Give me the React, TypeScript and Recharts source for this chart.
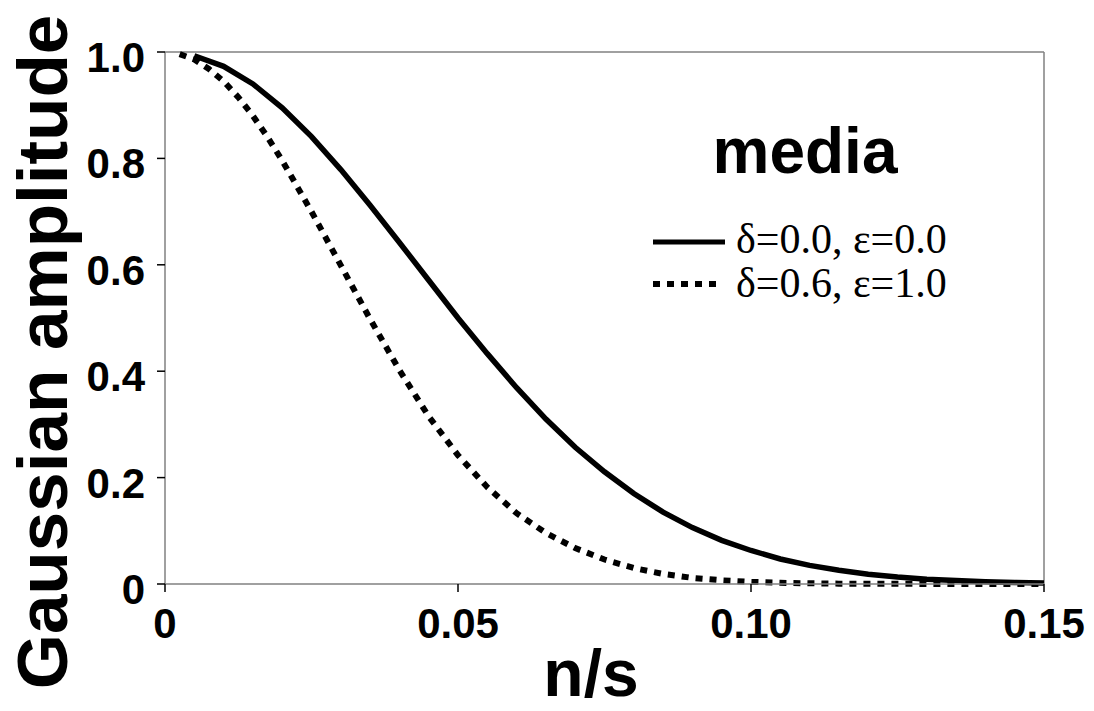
import React from "react";
import { LineChart, Line, XAxis, YAxis, Legend, ReferenceLine, Label } from "recharts";

// n/s positions and amplitudes
const solidX = [0.005, 0.01, 0.015, 0.02, 0.025, 0.03, 0.035, 0.04, 0.045, 0.05, 0.055, 0.06, 0.065, 0.07, 0.075, 0.08, 0.085, 0.09, 0.095, 0.1, 0.105, 0.11, 0.115, 0.12, 0.125, 0.13, 0.135, 0.14, 0.145, 0.15];
const solidY = [0.993, 0.973, 0.94, 0.895, 0.841, 0.779, 0.712, 0.642, 0.571, 0.5, 0.433, 0.369, 0.31, 0.257, 0.211, 0.17, 0.135, 0.106, 0.082, 0.063, 0.047, 0.035, 0.026, 0.0185, 0.013, 0.009, 0.0064, 0.0044, 0.003, 0.002];

const dottedX = [0.0025, 0.005, 0.0075, 0.01, 0.0125, 0.015, 0.0175, 0.02, 0.025, 0.03, 0.035, 0.04, 0.045, 0.05, 0.055, 0.06, 0.065, 0.07, 0.075, 0.08, 0.085, 0.09, 0.095, 0.1, 0.105, 0.11, 0.115, 0.12, 0.13, 0.14, 0.15];
const dottedY = [0.996, 0.986, 0.968, 0.945, 0.915, 0.88, 0.84, 0.796, 0.7, 0.599, 0.498, 0.402, 0.315, 0.242, 0.182, 0.133, 0.096, 0.0675, 0.046, 0.03, 0.019, 0.0115, 0.007, 0.004, 0.0023, 0.0013, 0.0007, 0.0004, 0.0002, 0.0001, 0];

const seriesNames = ["δ=0.0, ε=0.0", "δ=0.6, ε=1.0"];
const xTicks = [0, 0.05, 0.1, 0.15];
const xTickLabels = ["0", "0.05", "0.10", "0.15"];
const yTicks = [0, 0.2, 0.4, 0.6, 0.8, 1.0];
const yTickLabels = ["0", "0.2", "0.4", "0.6", "0.8", "1.0"];

const solidData = solidX.map((x, i) => ({ x, y: solidY[i] }));
const dottedData = dottedX.map((x, i) => ({ x, y: dottedY[i] }));

const sans = "'Liberation Sans', Arial, sans-serif";
const serif = "'Liberation Serif', 'Times New Roman', serif";

const XTick = (props: any) => {
  const { x, y, payload } = props;
  const idx = xTicks.indexOf(payload.value);
  return (
    <text x={x} y={y} dy="0.71em" textAnchor="middle" fontFamily={sans} fontWeight="bold" fontSize={42} fill="#000">
      {idx >= 0 ? xTickLabels[idx] : payload.value}
    </text>
  );
};

const YTick = (props: any) => {
  const { x, y, payload } = props;
  const idx = yTicks.indexOf(payload.value);
  return (
    <text x={x} y={y + 5} dy="0.355em" textAnchor="end" fontFamily={sans} fontWeight="bold" fontSize={42} fill="#000">
      {idx >= 0 ? yTickLabels[idx] : payload.value}
    </text>
  );
};

const LegendBox = () => (
  <svg width={430} height={210} style={{ display: "block" }}>
    <text x={165} y={73} textAnchor="middle" fontFamily={sans} fontWeight="bold" fontSize={64} fill="#000">
      media
    </text>
    <line x1={13} x2={85} y1={142} y2={142} stroke="#000" strokeWidth={5} />
    <text x={96} y={153} fontFamily={serif} fontSize={42} fill="#000">
      {seriesNames[0]}
    </text>
    <line x1={13} x2={80} y1={184} y2={184} stroke="#000" strokeWidth={6} strokeDasharray="7 7" />
    <text x={96} y={197} fontFamily={serif} fontSize={42} fill="#000">
      {seriesNames[1]}
    </text>
  </svg>
);

export default function App() {
  return (
    <div style={{ position: "absolute", left: 0, top: 0, background: "#fff" }}>
      <LineChart width={1094} height={711} margin={{ top: 52, right: 50, left: 0, bottom: 0 }}>
        <XAxis
          type="number"
          dataKey="x"
          domain={[0, 0.15]}
          ticks={xTicks}
          allowDataOverflow
          height={127}
          stroke="#808080"
          strokeWidth={1.5}
          tickLine={{ stroke: "#000", strokeWidth: 1.5 }}
          tickSize={8}
          tickMargin={16}
          tick={<XTick />}
        >
          <Label
            content={() => (
              <text x={591} y={696} textAnchor="middle" fontFamily={sans} fontWeight="bold" fontSize={66} fill="#000">
                n/s
              </text>
            )}
          />
        </XAxis>
        <YAxis
          type="number"
          dataKey="y"
          domain={[0, 1]}
          ticks={yTicks}
          width={165}
          stroke="#808080"
          strokeWidth={1.5}
          tickLine={{ stroke: "#000", strokeWidth: 1.5 }}
          tickSize={8}
          tickMargin={12}
          tick={<YTick />}
        >
          <Label
            content={() => (
              <text
                transform="translate(67,352) rotate(-90)"
                textAnchor="middle"
                fontFamily={sans}
                fontWeight="bold"
                fontSize={71}
                fill="#000"
              >
                Gaussian amplitude
              </text>
            )}
          />
        </YAxis>
        <ReferenceLine y={1} stroke="#808080" strokeWidth={1.5} />
        <ReferenceLine x={0.15} stroke="#808080" strokeWidth={1.5} />
        <Line
          data={dottedData}
          dataKey="y"
          name={seriesNames[1]}
          type="linear"
          stroke="#000"
          strokeWidth={6}
          strokeDasharray="7 7"
          dot={false}
          activeDot={false}
          isAnimationActive={false}
        />
        <Line
          data={solidData}
          dataKey="y"
          name={seriesNames[0]}
          type="linear"
          stroke="#000"
          strokeWidth={5.5}
          dot={false}
          activeDot={false}
          isAnimationActive={false}
        />
        <Legend
          layout="horizontal"
          verticalAlign="middle"
          align="center"
          content={() => <LegendBox />}
          wrapperStyle={{ position: "absolute", left: 640, top: 100, width: 430, height: 210 }}
        />
      </LineChart>
    </div>
  );
}
